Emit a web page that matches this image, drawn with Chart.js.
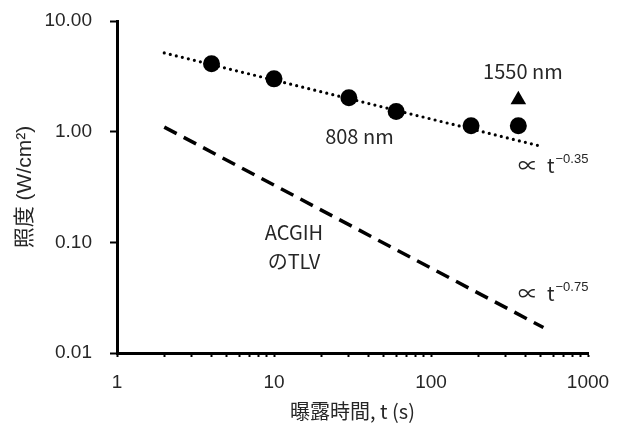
<!DOCTYPE html>
<html><head><meta charset="utf-8">
<script src="https://cdn.jsdelivr.net/npm/chart.js@4/dist/chart.umd.min.js"></script>
<style>html,body{margin:0;padding:0;background:#fff}#wrap{width:626px;height:423px;position:relative}</style>
</head><body><div id="wrap"><canvas id="c"></canvas></div>
<script>
// ---- data ----
const xMajor = [1, 10, 100, 1000];
const xMinor = [2,3,4,5,6,7,8,9,20,30,40,50,60,70,80,90,200,300,400,500,600,700,800,900];
const yMajor = [0.01, 0.1, 1, 10];
const yTickLabels = ['0.01', '0.10', '1.00', '10.00'];
const t808 = [4, 10, 30, 60, 180, 360];
const e808 = [4.1, 3.0, 2.03, 1.52, 1.13, 1.13];
const t1550 = [360];
const e1550 = [1.94];
const fitT = [2, 480];
const fitE = [5.15, 0.75];
const tlvT = [2, 520];
const tlvE = [1.1, 0.017];
const annoText = ['1550 nm', '808 nm', 'ACGIH', 'のTLV'];
const annoX = [385, 35, 13.4, 13.4];
const annoY = [3.47, 0.90, 0.123, 0.0674];
const propExp = ['\u22120.35', '\u22120.75'];
const propX = [358, 358];
const propY = [0.494, 0.0347];

const pts = (xs, ys) => xs.map((x, i) => ({x, y: ys[i]}));
const TXT = '#262626';

const annoPlugin = {
  id: 'anno',
  afterDatasetsDraw(chart) {
    const ctx = chart.ctx, xs = chart.scales.x, ys = chart.scales.y;
    ctx.save();
    ctx.fillStyle = TXT;
    ctx.textBaseline = 'middle';
    ctx.textAlign = 'center';
    ctx.font = "20px 'Noto Sans CJK JP'";
    annoText.forEach((t, i) => {
      ctx.fillText(t, xs.getPixelForValue(annoX[i]), ys.getPixelForValue(annoY[i]));
    });
    ctx.textAlign = 'left';
    propExp.forEach((e, i) => {
      const px = xs.getPixelForValue(propX[i]);
      const py = ys.getPixelForValue(propY[i]);
      ctx.font = "20px 'Noto Sans CJK JP'";
      ctx.fillText('\u221D', px, py);
      ctx.fillText('t', px + 29, py);
      const w = ctx.measureText('t').width;
      ctx.font = "13px 'Liberation Sans'";
      ctx.fillText(e, px + 29 + w + 1, py - 6);
    });
    ctx.restore();
  }
};

new Chart(document.getElementById('c'), {
  type: 'scatter',
  data: {
    datasets: [
      { label: '808 nm', data: pts(t808, e808), pointStyle: 'circle', pointRadius: 8.5,
        backgroundColor: '#000', borderColor: '#000', borderWidth: 0 },
      { label: '1550 nm', data: pts(t1550, e1550), pointStyle: 'triangle', pointRadius: 9,
        backgroundColor: '#000', borderColor: '#000', borderWidth: 0 },
      { label: 'fit', data: pts(fitT, fitE), showLine: true, pointRadius: 0, borderColor: '#000',
        borderWidth: 3.2, borderDash: [0, 6.2], borderCapStyle: 'round', fill: false },
      { label: 'TLV', data: pts(tlvT, tlvE), showLine: true, pointRadius: 0, borderColor: '#000',
        borderWidth: 3.5, borderDash: [14, 8], borderCapStyle: 'butt', fill: false }
    ]
  },
  options: {
    responsive: true, maintainAspectRatio: false, animation: false,
    devicePixelRatio: 1,
    layout: { padding: { top: 21, right: 38, left: 0, bottom: 0 } },
    plugins: { legend: { display: false }, tooltip: { enabled: false } },
    scales: {
      x: {
        type: 'logarithmic', min: 1, max: 1000,
        afterBuildTicks(s) {
          s.ticks = xMajor.concat(xMinor).sort((a, b) => a - b).map(v => ({value: v, major: xMajor.includes(v)}));
        },
        afterFit(s) { s.height = 70; s.paddingLeft = 0; s.paddingRight = 0; },
        border: { display: true, color: '#000', width: 3 },
        grid: { drawOnChartArea: false, drawTicks: true, tickLength: 4, tickWidth: 2, tickColor: '#000' },
        ticks: {
          autoSkip: false, maxRotation: 0, padding: 14, color: TXT,
          font: { family: "'Liberation Sans'", size: 19 },
          callback(v) { return xMajor.includes(v) ? String(v) : ''; }
        },
        title: { display: true, text: '曝露時間, t (s)', color: TXT,
          font: { family: "'Noto Sans CJK JP'", size: 20 }, padding: { top: 0, bottom: 0 } }
      },
      y: {
        type: 'logarithmic', min: 0.01, max: 10,
        afterBuildTicks(s) { s.ticks = yMajor.map(v => ({value: v, major: true})); },
        afterFit(s) { s.width = 117; s.paddingTop = 0; s.paddingBottom = 0; },
        border: { display: true, color: '#000', width: 3 },
        grid: { drawOnChartArea: false, drawTicks: true, tickLength: 7, tickWidth: 2, tickColor: '#000' },
        ticks: {
          autoSkip: false, padding: 18, color: TXT,
          font: { family: "'Liberation Sans'", size: 19 },
          callback(v) { const i = yMajor.findIndex(m => Math.abs(m - v) / m < 1e-6); return i >= 0 ? yTickLabels[i] : ''; }
        },
        title: { display: true, text: '照度 (W/cm²)', color: TXT,
          font: { family: "'Liberation Sans', 'Noto Sans CJK JP'", size: 21 }, padding: { top: 13, bottom: 0 } }
      }
    }
  },
  plugins: [annoPlugin]
});
</script></body></html>
